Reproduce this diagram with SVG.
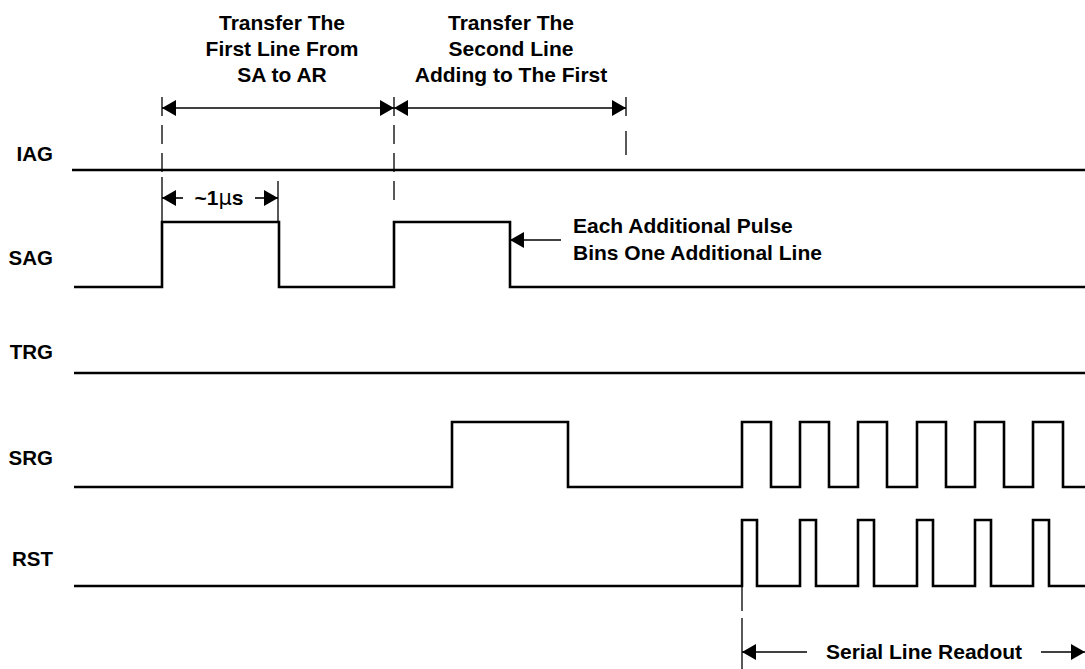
<svg xmlns="http://www.w3.org/2000/svg" width="1085" height="669" viewBox="0 0 1085 669">
<style>
text{font-family:"Liberation Sans",Arial,sans-serif;font-weight:bold;font-size:21px;fill:#000}
.lbl{text-anchor:end;font-size:20.5px}
.mid{text-anchor:middle}
.wave{fill:none;stroke:#000;stroke-width:2.6;stroke-linejoin:miter}
.dim{fill:none;stroke:#000;stroke-width:1.6}
.ext{fill:none;stroke:#000;stroke-width:1.3}
.dash{stroke-dasharray:19 9}
</style>
<defs>
<marker id="ah" viewBox="0 0 14 16" refX="14" refY="8" markerWidth="14" markerHeight="16" markerUnits="userSpaceOnUse" orient="auto-start-reverse">
<path d="M0,0 L14,8 L0,16 z" fill="#000"/>
</marker>
</defs>
<rect width="1085" height="669" fill="#fff"/>

<g id="IAG">
<text class="lbl" x="53" y="161">IAG</text>
<path class="wave" d="M72,170 H1085"/>
</g>
<g id="SAG">
<text class="lbl" x="53" y="265">SAG</text>
<path class="wave" d="M74,287 H162 V222 H279 V287 H394 V222 H510 V287 H1085"/>
</g>
<g id="TRG">
<text class="lbl" x="53" y="359">TRG</text>
<path class="wave" d="M74,373 H1085"/>
</g>
<g id="SRG">
<text class="lbl" x="53" y="465">SRG</text>
<path class="wave" d="M74,487 H452 V422 H568 V487 H742 V422 H771 V487 H800 V422 H829 V487 H858 V422 H887 V487 H917 V422 H946 V487 H975 V422 H1004 V487 H1033 V422 H1063 V487 H1085"/>
</g>
<g id="RST">
<text class="lbl" x="53" y="566">RST</text>
<path class="wave" d="M74,586 H742 V520 H757 V586 H800 V520 H816 V586 H858 V520 H874 V586 H917 V520 H933 V586 H975 V520 H991 V586 H1033 V520 H1049 V586 H1085"/>
</g>

<g id="annotations">
<text class="mid" x="282" y="30">Transfer The</text>
<text class="mid" x="282" y="56">First Line From</text>
<text class="mid" x="282" y="82">SA to AR</text>
<text class="mid" x="511" y="30">Transfer The</text>
<text class="mid" x="511" y="56">Second Line</text>
<text class="mid" x="511" y="82">Adding to The First</text>
<text class="mid" x="219" y="205">~1<tspan font-weight="normal" font-family="'DejaVu Sans','Liberation Sans',sans-serif">μ</tspan>s</text>
<text x="573" y="233">Each Additional Pulse</text>
<text x="573" y="260">Bins One Additional Line</text>
<text x="826" y="659">Serial Line Readout</text>
</g>

<g id="connectors">
<path class="ext dash" d="M162,97 V172"/>
<path class="ext dash" d="M394,97 V200"/>
<path class="ext" d="M626,97 V116 M626,131 V155"/>
<path class="ext" d="M162,177 V222 M278,181 V222"/>
<path class="ext" d="M742,587 V611 M742,618 V669"/>
<path class="dim" d="M162,108 H394" marker-start="url(#ah)" marker-end="url(#ah)"/>
<path class="dim" d="M394,108 H626" marker-start="url(#ah)" marker-end="url(#ah)"/>
<path class="dim" d="M183,198 H162" marker-end="url(#ah)"/>
<path class="dim" d="M255,198 H278" marker-end="url(#ah)"/>
<path class="dim" d="M561,240 H510" marker-end="url(#ah)"/>
<path class="dim" d="M807,652 H742" marker-end="url(#ah)"/>
<path class="dim" d="M1041,652 H1085" marker-end="url(#ah)"/>
</g>
</svg>
